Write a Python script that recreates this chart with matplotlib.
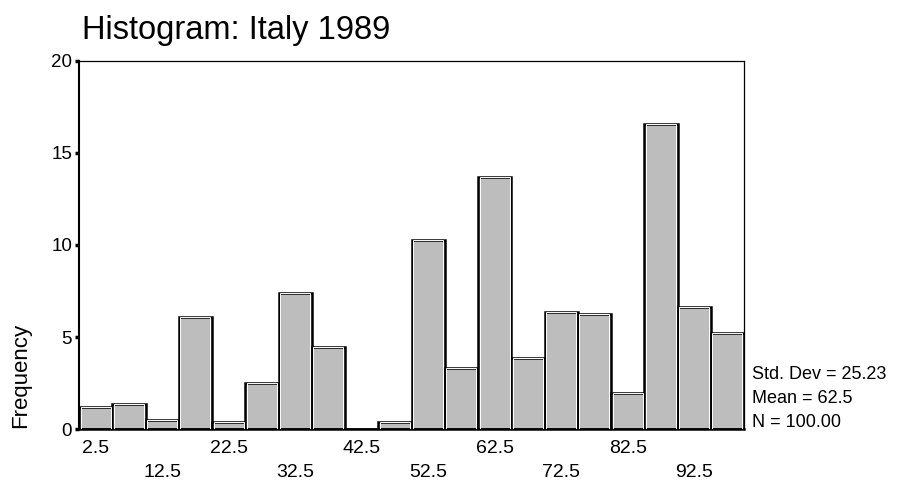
import numpy as np
import matplotlib
matplotlib.use("Agg")
import matplotlib.pyplot as plt

# 구간 중심값과 빈도
bin_centers = [2.5, 7.5, 12.5, 17.5, 22.5, 27.5, 32.5, 37.5, 42.5, 47.5,
               52.5, 57.5, 62.5, 67.5, 72.5, 77.5, 82.5, 87.5, 92.5, 97.5]
frequencies = [1.18, 1.38, 0.49, 6.09, 0.40, 2.48, 7.37, 4.47, 0.0, 0.38,
               10.27, 3.33, 13.71, 3.84, 6.38, 6.23, 1.97, 16.56, 6.61, 5.20]
bin_width = 5
upper_ticks = [2.5, 22.5, 42.5, 62.5, 82.5]
lower_ticks = [12.5, 32.5, 52.5, 72.5, 92.5]
y_ticks = [0, 5, 10, 15, 20]
stats_lines = ["Std. Dev = 25.23", "Mean = 62.5", "N = 100.00"]

plt.rcParams["font.family"] = ["Liberation Sans", "DejaVu Sans"]

fig = plt.figure(figsize=(9.02, 4.84), dpi=100)
ax = fig.add_axes([79 / 902, 1 - 429 / 484, 665 / 902, 368 / 484])

ax.bar(bin_centers, frequencies, width=bin_width, color="#bdbdbd",
       edgecolor="black", linewidth=1.8, zorder=2)
# 막대 안쪽의 흰 테두리
ax.bar(bin_centers, frequencies, width=bin_width * 0.9, color="none",
       edgecolor="white", linewidth=0.7, zorder=3)

ax.set_xlim(0, 100)
ax.set_ylim(0, 20)

ax.set_xticks(upper_ticks)
ax.set_xticklabels([f"{v}" for v in upper_ticks])
ax.set_xticks(lower_ticks, minor=True)
ax.set_xticklabels([f"{v}" for v in lower_ticks], minor=True)
ax.tick_params(axis="x", which="major", length=0, pad=8, labelsize=14)
ax.tick_params(axis="x", which="minor", length=0, pad=25, labelsize=14)

ax.set_yticks(y_ticks)
ax.tick_params(axis="y", length=3, width=2.5, pad=2, labelsize=13.5)

for side in ["top", "right"]:
    ax.spines[side].set_linewidth(0.9)
ax.spines["left"].set_linewidth(1.5)
ax.spines["bottom"].set_linewidth(1.8)

fig.text(21 / 902, 1 - 375 / 484, "Frequency", rotation=90,
         ha="center", va="center", fontsize=16)

fig.text(82 / 902, 1 - 39 / 484, "Histogram: Italy 1989",
         fontsize=23.5, va="baseline", ha="left")

for i, line in enumerate(stats_lines):
    fig.text(752 / 902, 1 - (379 + i * 24) / 484, line,
             fontsize=13, va="baseline", ha="left")

fig.savefig("out.png", dpi=100)
plt.close(fig)
